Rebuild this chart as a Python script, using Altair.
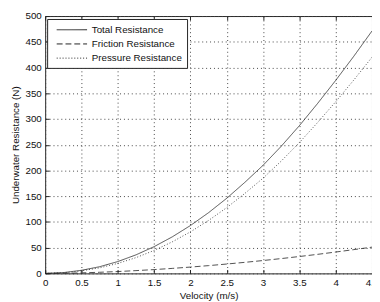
import altair as alt
import pandas as pd

velocity = [0, 0.25, 0.5, 0.75, 1, 1.25, 1.5, 1.75, 2, 2.25, 2.5, 2.75, 3, 3.25, 3.5, 3.75, 4, 4.25, 4.5]
total = [0, 1.5, 6, 13, 23, 36, 52, 71, 93, 118, 146, 177, 210, 247, 287, 330, 375, 422, 471]
friction = [0, 0.3, 1, 2.2, 3.6, 5.4, 7.4, 9.7, 12.3, 15.1, 18.2, 21.5, 25, 28.8, 32.8, 37, 41.5, 46.2, 51]
pressure = [0, 1.2, 5, 10.8, 19.4, 30.6, 44.6, 61.3, 80.7, 102.9, 127.8, 155.5, 185, 218.2, 254.2, 293, 333.5, 375.8, 420]
series_names = ["Total Resistance", "Friction Resistance", "Pressure Resistance"]
x_ticks = [0, 0.5, 1, 1.5, 2, 2.5, 3, 3.5, 4, 4.5]
y_ticks = [0, 50, 100, 150, 200, 250, 300, 350, 400, 450, 500]

rows = []
for name, vals in zip(series_names, [total, friction, pressure]):
    for v, r in zip(velocity, vals):
        rows.append({"series": name, "v": v, "value": r})
df = pd.DataFrame(rows)

FONT = "Liberation Sans"
xscale = alt.Scale(domain=[0, 4.5], nice=False, zero=False)
yscale = alt.Scale(domain=[0, 500], nice=False)

lines = alt.Chart(df).mark_line(strokeWidth=0.8, color="#222").encode(
    x=alt.X("v:Q", scale=xscale, title="Velocity (m/s)",
            axis=alt.Axis(orient="bottom", values=x_ticks, format="~g", grid=True,
                          gridDash=[1, 3], gridColor="#444", tickSize=0, domain=False,
                          labelPadding=4, titlePadding=4, labelFlush=False)),
    y=alt.Y("value:Q", scale=yscale, title="Underwater Resistance (N)",
            axis=alt.Axis(orient="left", values=y_ticks, grid=True,
                          gridDash=[1, 3], gridColor="#444", tickSize=0, domain=False,
                          labelPadding=4, titlePadding=5)),
    strokeDash=alt.StrokeDash("series:N",
        scale=alt.Scale(domain=series_names, range=[[1, 0], [6, 3], [1, 2]]),
        sort=series_names,
        legend=alt.Legend(title=None, orient="none", legendX=2, legendY=3,
                          symbolType="M-3,0H3", symbolSize=107, symbolStrokeColor="#222",
                          symbolStrokeWidth=1, symbolFillColor="transparent",
                          fillColor="white", strokeColor="#222",
                          padding=5, symbolOffset=14.3, labelOffset=14.3, rowPadding=3.5,
                          labelFont=FONT, labelFontSize=10, labelColor="#111")),
)

ticks1 = alt.Chart(df).mark_line(opacity=0).encode(
    x=alt.X("v:Q", scale=xscale, title=None,
            axis=alt.Axis(orient="bottom", values=x_ticks, offset=-4, tickSize=4,
                          labels=False, domain=False, grid=False, tickColor="#222")),
    y=alt.Y("value:Q", scale=yscale, title=None,
            axis=alt.Axis(orient="left", values=y_ticks, offset=-4, tickSize=4,
                          labels=False, domain=False, grid=False, tickColor="#222")),
    detail="series:N",
)

ticks2 = alt.Chart(df).mark_line(opacity=0).encode(
    x=alt.X("v:Q", scale=xscale, title=None,
            axis=alt.Axis(orient="top", values=x_ticks, offset=-4, tickSize=4,
                          labels=False, domain=False, grid=False, tickColor="#222")),
    y=alt.Y("value:Q", scale=yscale, axis=None),
    detail="series:N",
)

chart = alt.layer(lines, ticks1, ticks2).resolve_axis(
    x="independent", y="independent"
).properties(
    width=334, height=263,
    autosize=alt.AutoSizeParams(type="none"),
    padding={"left": 38, "top": 5, "right": 0, "bottom": 26},
).configure_view(
    stroke="#222", strokeWidth=1
).configure_axis(
    labelFont=FONT, labelFontSize=10, labelColor="#111",
    titleFont=FONT, titleFontSize=10, titleColor="#111", titleFontWeight="normal",
)

chart.save("out.html", embed_options={"renderer": "svg", "actions": False})
